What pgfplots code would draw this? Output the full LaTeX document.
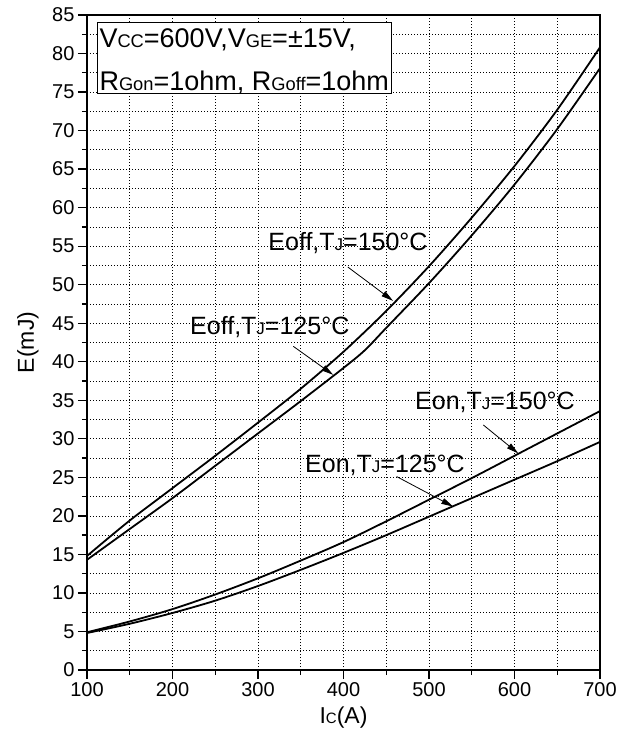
\documentclass[border=0pt]{standalone}
\usepackage{fontspec}
\setmainfont{Liberation Sans}
\usepackage{pgfplots}
\pgfplotsset{compat=1.18}
\usetikzlibrary{arrows.meta}
\newcommand{\sm}[1]{{\fontsize{17}{17}\selectfont #1}}
\newcommand{\smA}[1]{{\fontsize{18.3}{18.3}\selectfont #1}}
\newcommand{\smb}[1]{{\fontsize{15}{15}\selectfont #1}}
\newcommand{\bigf}{\fontsize{25}{25}\selectfont}
\newcommand{\annf}{\fontsize{27}{27}\selectfont}
\begin{document}
\begin{tikzpicture}
\begin{axis}[
  scale only axis, width=513pt, height=655pt,
  xmin=100, xmax=700, ymin=0, ymax=85,
  xtick={100,200,...,700}, ytick={0,5,...,85},
  minor xtick={150,250,...,650}, minor ytick={2.5,7.5,...,82.5},
  tick pos=left, tick align=outside,
  major tick length=9pt, minor tick length=5pt,
  every tick/.style={black, line width=1.3pt},
  axis line style={line width=1.6pt},
  grid=both,
  major grid style={black, line width=0.7pt, dash pattern=on 1pt off 2pt},
  minor grid style={black, line width=0.7pt, dash pattern=on 1pt off 2pt},
  ticklabel style={font=\fontsize{20}{20}\selectfont},
  /pgf/number format/assume math mode=true,
  xlabel={I\smb{C}(A)}, ylabel={E(mJ)},
  label style={font=\fontsize{23}{23}\selectfont},
  xlabel style={at={(axis description cs:0.5,-0.073)}, anchor=center},
  ylabel style={at={(axis description cs:-0.115,0.5)}, anchor=center},
  clip=false,
]
\addplot[black, line width=1.8pt, smooth, tension=0.5] coordinates {
(100,14.8) (150,19.4) (200,23.6) (250,27.8) (300,32.1) (350,36.5) (400,41.3) (450,46.6) (500,52.4) (550,58.7) (600,65.4) (650,72.7) (700,80.8)};
\addplot[black, line width=1.8pt, smooth, tension=0.5] coordinates {
(100,14.3) (150,18.3) (200,22.3) (250,26.5) (300,30.7) (350,34.9) (400,39.2) (425,41.5) (450,44.4) (500,50.2) (550,56.4) (600,63.0) (650,70.2) (700,78.1)};
\addplot[black, line width=1.8pt, smooth, tension=0.5] coordinates {
(100,4.9) (150,6.3) (200,7.9) (250,9.8) (300,11.9) (350,14.2) (400,16.6) (450,19.3) (500,22.1) (550,24.9) (600,27.8) (650,30.7) (700,33.6)};
\addplot[black, line width=1.8pt, smooth, tension=0.5] coordinates {
(100,4.8) (150,6.0) (200,7.4) (250,9.0) (300,10.9) (350,13.0) (400,15.2) (450,17.5) (500,19.9) (550,22.3) (600,24.7) (650,27.1) (700,29.6)};

\draw[black, line width=1pt, fill=white] (axis description cs:0.0195,0.8805) rectangle (axis description cs:0.594,0.988);
\node[anchor=base west, inner sep=0pt, font=\annf] at (axis description cs:0.024,0.9507) {V\smA{CC}=600V,V\smA{GE}=±15V,};
\node[anchor=base west, inner sep=0pt, font=\annf] at (axis description cs:0.024,0.885) {R\smA{Gon}=1ohm, R\smA{Goff}=1ohm};

\node[anchor=base west, inner sep=0pt, font=\bigf] at (axis cs:312,54.5) {Eoff,T\sm{J}=150°C};
\node[anchor=base west, inner sep=0pt, font=\bigf] at (axis cs:220.5,43.5) {Eoff,T\sm{J}=125°C};
\node[anchor=base west, inner sep=0pt, font=\bigf] at (axis cs:483.6,33.8) {Eon,T\sm{J}=150°C};
\node[anchor=base west, inner sep=0pt, font=\bigf] at (axis cs:355,25.6) {Eon,T\sm{J}=125°C};

\draw[line width=0.8pt, -{Triangle[length=12pt,width=6pt]}] (axis cs:405,52.3) -- (axis cs:458,47.9);
\draw[line width=0.8pt, -{Triangle[length=12pt,width=6pt]}] (axis cs:341.3,42.0) -- (axis cs:388,38.3);
\draw[line width=0.8pt, -{Triangle[length=12pt,width=6pt]}] (axis cs:563.5,31.8) -- (axis cs:604.5,28.1);
\draw[line width=0.8pt, -{Triangle[length=12pt,width=6pt]}] (axis cs:462.2,25.1) -- (axis cs:528.4,21.2);
\end{axis}
\pgfresetboundingbox
\path ([shift={(-87pt,-74pt)}]current axis.south west) rectangle ([shift={(18pt,15pt)}]current axis.north east);
\end{tikzpicture}
\end{document}
